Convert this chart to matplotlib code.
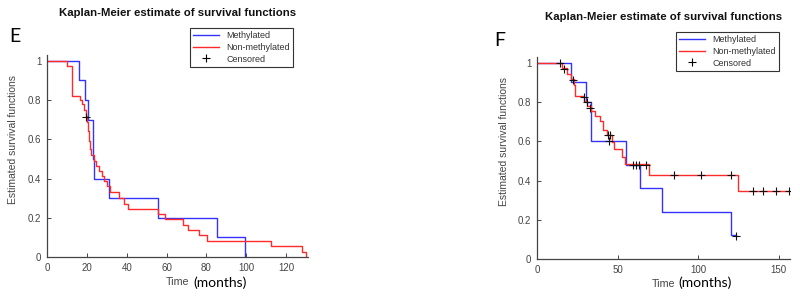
import matplotlib
matplotlib.use("Agg")
import matplotlib.pyplot as plt
from matplotlib.lines import Line2D

# ---------------- data ----------------
# Panel E
e_meth_t = [0, 16.2, 19.3, 20.8, 23.2, 23.8, 31.3, 55.8, 85.4, 99.3]
e_meth_s = [1.0, 0.9, 0.8, 0.7, 0.5, 0.4, 0.3, 0.2, 0.1, 0.0]
e_non_t = [0, 9.8, 12.6, 16.5, 17.5, 18.5, 19.5, 20.3, 20.8, 21.2, 21.6, 22.2,
           23.5, 24.5, 26.0, 27.5, 28.5, 30.0, 31.7, 36.3, 38.8, 40.9, 55.8,
           59.0, 68.2, 70.7, 76.4, 80.2, 112.4, 127.8, 130.0]
e_non_s = [1.0, 0.975, 0.82, 0.80, 0.78, 0.75, 0.72, 0.69, 0.64, 0.59, 0.55, 0.52,
           0.49, 0.465, 0.44, 0.415, 0.385, 0.36, 0.33, 0.30, 0.27, 0.245, 0.22,
           0.193, 0.165, 0.14, 0.11, 0.083, 0.055, 0.028, 0.0]
e_cens_t = [19.6]
e_cens_s = [0.712]

# Panel F
f_meth_t = [0, 21.4, 30.5, 33.2, 55.2, 63.7, 77.4, 120.5, 123.4]
f_meth_s = [1.0, 0.9, 0.8, 0.6, 0.48, 0.36, 0.24, 0.12, 0.12]
f_non_t = [0, 15.5, 18.5, 21.0, 22.8, 23.8, 29.0, 31.0, 33.5, 36.0, 39.0, 41.0,
           43.4, 46.5, 47.5, 52.7, 54.3, 69.3, 124.6, 156.4]
f_non_s = [1.0, 0.972, 0.944, 0.917, 0.889, 0.83, 0.805, 0.78, 0.755, 0.73, 0.705,
           0.66, 0.63, 0.598, 0.56, 0.522, 0.483, 0.428, 0.345, 0.345]
f_cens_t = [14.5, 16.8, 22.4, 29.4, 31.1, 33.0, 44.2, 45.4, 44.4, 59.3, 61.4, 63.5,
            67.6, 84.8, 101.9, 120.1, 134.2, 140.2, 148.1, 156.4, 123.4]
f_cens_s = [1.0, 0.97, 0.913, 0.828, 0.80, 0.772, 0.633, 0.63, 0.60, 0.48, 0.48, 0.48,
            0.48, 0.427, 0.427, 0.427, 0.345, 0.345, 0.345, 0.345, 0.119]

y_ticks = [0, 0.2, 0.4, 0.6, 0.8, 1.0]
y_tick_labels = ["0", "0.2", "0.4", "0.6", "0.8", "1"]
e_x_ticks = [0, 20, 40, 60, 80, 100, 120]
f_x_ticks = [0, 50, 100, 150]
legend_labels = ["Methylated", "Non-methylated", "Censored"]
title_text = "Kaplan-Meier estimate of survival functions"

# ---------------- style ----------------
plt.rcParams['font.family'] = ['Liberation Sans', 'DejaVu Sans']
W, H = 800, 298
fig = plt.figure(figsize=(W / 100, H / 100), dpi=100)

AX_COL = "#444444"
TXT_COL = "#444444"
BLUE = "#3333ff"
RED = "#ff2a2a"


def px_rect(x0, y0, x1, y1):
    return [x0 / W, 1 - y1 / H, (x1 - x0) / W, (y1 - y0) / H]


def make_panel(rect, mt, ms, nt, ns, ct, cs, xticks, xlim, letter, letter_xy,
               months_x, leg_xy, title_pad, ylab_x):
    ax = fig.add_axes(rect)
    ax.step(mt, ms, where='post', color=BLUE, lw=1.0)
    ax.step(nt, ns, where='post', color=RED, lw=1.0)
    ax.plot(ct, cs, linestyle='none', marker='+', color='#111111',
            markersize=6, markeredgewidth=0.8)
    ax.set_xlim(*xlim)
    ax.set_ylim(0, 1.03)
    ax.set_xticks(xticks)
    ax.set_xticklabels([str(v) for v in xticks])
    ax.set_yticks(y_ticks)
    ax.set_yticklabels(y_tick_labels)
    for s in ['top', 'right']:
        ax.spines[s].set_visible(False)
    for s in ['left', 'bottom']:
        ax.spines[s].set_color(AX_COL)
        ax.spines[s].set_linewidth(0.9)
    ax.tick_params(direction='in', length=3, width=0.7, colors=AX_COL,
                   labelsize=7, labelcolor=TXT_COL, pad=4)
    ax.set_ylabel("Estimated survival functions", fontsize=7.5, color=TXT_COL)
    ax.yaxis.set_label_coords(ylab_x, 0.58)
    ax.set_xlabel("Time", fontsize=7.7, color=TXT_COL, labelpad=3)
    ax.set_title(title_text, fontsize=8.2, fontweight='bold', pad=title_pad,
                 color='#111111')
    fig.text(letter_xy[0] / W, 1 - letter_xy[1] / H, letter, fontsize=14,
             family='Lato', ha='center', va='center', color='black')
    fig.text(months_x / W, 1 - 283 / H, "(months)", fontsize=10, family='Lato',
             ha='center', va='center', color='black')
    handles = [Line2D([], [], color=BLUE, lw=1.0),
               Line2D([], [], color=RED, lw=1.0),
               Line2D([], [], color='black', ls='none', marker='+',
                      markersize=6, markeredgewidth=0.8)]
    leg = ax.legend(handles, legend_labels, loc='upper left',
                    bbox_to_anchor=(leg_xy[0] / W, 1 - leg_xy[1] / H),
                    bbox_transform=fig.transFigure, fontsize=6.5,
                    frameon=True, fancybox=False, framealpha=1,
                    edgecolor='#333333', borderpad=0.35, handlelength=2.9,
                    handletextpad=0.8, labelspacing=0.3, borderaxespad=0)
    leg.get_frame().set_linewidth(0.8)
    for t in leg.get_texts():
        t.set_color('#333333')
    return ax


axE = make_panel(px_rect(47, 55, 308, 257), e_meth_t, e_meth_s, e_non_t, e_non_s,
                 e_cens_t, e_cens_s, e_x_ticks, (0, 131), "E", (15, 37), 220,
                 (190, 28), 28, -0.11)
axF = make_panel(px_rect(537, 57, 790, 259), f_meth_t, f_meth_s, f_non_t, f_non_s,
                 f_cens_t, f_cens_s, f_x_ticks, (0, 157), "F", (500, 40), 705,
                 (676, 32), 27, -0.11)

fig.savefig("out.png", dpi=100)
